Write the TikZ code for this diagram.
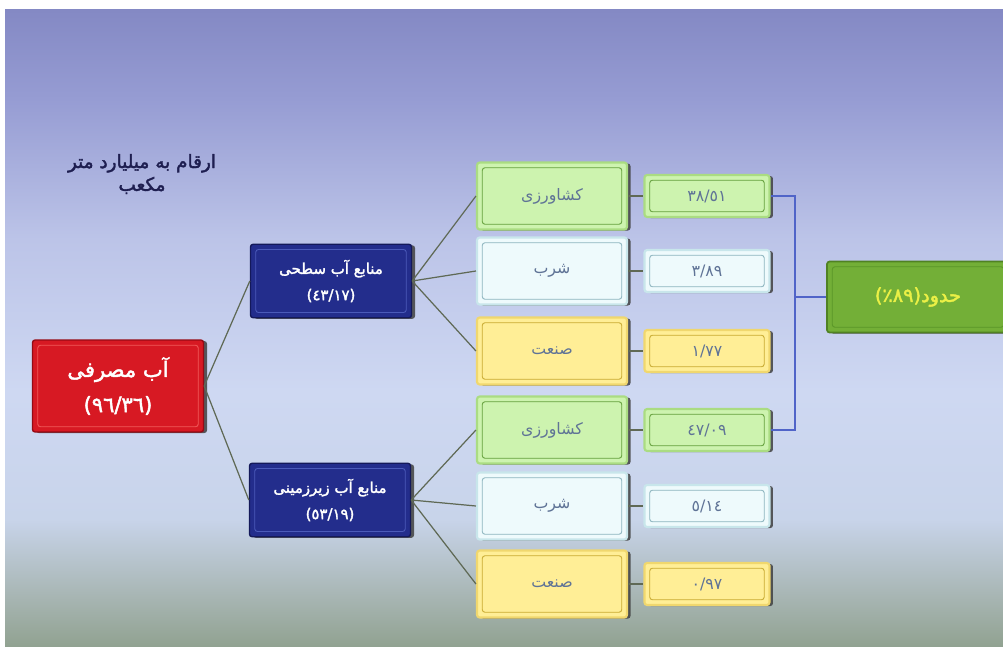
\documentclass[tikz,border=0pt]{standalone}
\usepackage{fontspec}
\usetikzlibrary{positioning, shadows}
\newfontfamily\farsi[Script=Arabic,AutoFakeBold=2]{DejaVu Sans}
\TeXXeTstate=1
\newcommand{\fatext}[1]{\beginR #1\endR}
\definecolor{bgA}{RGB}{132,137,196}
\definecolor{bgA2}{RGB}{150,156,211}
\definecolor{bgB}{RGB}{188,196,232}
\definecolor{bgC2}{RGB}{206,216,242}
\definecolor{bgC}{RGB}{200,212,234}
\definecolor{bgD}{RGB}{168,182,180}
\definecolor{bgE}{RGB}{145,162,145}
\definecolor{notecol}{RGB}{30,30,80}
\definecolor{redcol}{RGB}{215,25,35}
\definecolor{redline}{RGB}{150,10,20}
\definecolor{redbevel}{RGB}{240,90,90}
\definecolor{bluecol}{RGB}{35,45,140}
\definecolor{blueline}{RGB}{20,25,90}
\definecolor{bluebevel}{RGB}{75,90,185}
\definecolor{agricol}{RGB}{205,243,175}
\definecolor{agriline}{RGB}{170,220,130}
\definecolor{agribevel}{RGB}{100,160,60}
\definecolor{drinkcol}{RGB}{238,250,252}
\definecolor{drinkline}{RGB}{200,230,235}
\definecolor{drinkbevel}{RGB}{140,180,190}
\definecolor{induscol}{RGB}{255,238,150}
\definecolor{indusline}{RGB}{240,215,110}
\definecolor{indusbevel}{RGB}{200,170,50}
\definecolor{totalcol}{RGB}{115,175,55}
\definecolor{totalline}{RGB}{80,130,35}
\definecolor{totalbevel}{RGB}{90,150,40}
\definecolor{totaltext}{RGB}{235,240,70}
\definecolor{celltext}{RGB}{95,115,150}
\definecolor{linecol}{RGB}{95,105,85}
\definecolor{bracketcol}{RGB}{80,100,200}
\pgfdeclareverticalshading{slidebg}{100bp}{color(0bp)=(bgE); color(25bp)=(bgE);
  color(29bp)=(bgD); color(35bp)=(bgC); color(45bp)=(bgC2); color(57bp)=(bgB);
  color(68bp)=(bgA2); color(75bp)=(bgA); color(100bp)=(bgA)}

\begin{document}
\begin{tikzpicture}[
			x=0.02cm, y=-0.02cm,
			node distance=3.1cm,
			on grid,
			box/.style={
				rectangle,
				rounded corners=1.5pt,
				align=center,
				inner sep=1pt,
				font=\farsi\bfseries,
				drop shadow={shadow xshift=2pt, shadow yshift=-0.6pt, fill=black!75, opacity=0.85}
			},
			bevel/.style={
				path picture={\draw[#1, line width=0.5pt]
					([shift={(3pt,-3pt)}]path picture bounding box.north west) rectangle
					([shift={(-3pt,3pt)}]path picture bounding box.south east);}
			},
			usedbox/.style={box, fill=redcol, draw=redline, line width=0.8pt, bevel=redbevel,
				text=white, font=\farsi\bfseries\fontsize{12}{20}\selectfont,
				minimum width=3.42cm, minimum height=1.84cm},
			srcbox/.style={box, fill=bluecol, draw=blueline, line width=0.8pt, bevel=bluebevel,
				text=white, font=\farsi\bfseries\fontsize{8.5}{15}\selectfont,
				minimum width=3.22cm, minimum height=1.47cm},
			catbox/.style={box, fill=#1col, draw=#1line, line width=1.2pt, bevel=#1bevel,
				text=celltext, font=\farsi\fontsize{9}{11}\selectfont,
				minimum width=3cm, minimum height=1.34cm},
			valbox/.style={box, fill=#1col, draw=#1line, line width=1.2pt, bevel=#1bevel,
				text=celltext, font=\farsi\fontsize{9}{11}\selectfont,
				minimum width=2.5cm, minimum height=0.84cm},
			treeline/.style={draw=linecol, line width=0.7pt},
			bracket/.style={draw=bracketcol, line width=0.6pt}
			]
			\useasboundingbox (0,0) rectangle (1003,652);
			% Background
			\fill[shading=slidebg] (5,10) rectangle (1003,646);
			
			% Note
			\node[font=\farsi\bfseries\fontsize{10.5}{13}\selectfont, text=notecol, align=center] (note) at (142,174)
				{\fatext{ارقام به میلیارد متر}\\\fatext{مکعب}};
			
			% Boxes
			\node[usedbox] (used) at (118,386) {\fatext{آب مصرفی}\\(٩٦/٣٦)};
			\node[srcbox] (surface) at (331,281) {\fatext{منابع آب سطحی}\\(٤٣/١٧)};
			\node[srcbox] (ground) at (330,500) {\fatext{منابع آب زیرزمینی}\\(٥٣/١٩)};
			
			\node[catbox=agri] (agriS) at (552,196) {\fatext{کشاورزی}};
			\node[catbox=drink] (drinkS) at (552,271) {\fatext{شرب}};
			\node[catbox=indus] (indusS) at (552,351) {\fatext{صنعت}};
			\node[catbox=agri] (agriG) at (552,430) {\fatext{کشاورزی}};
			\node[catbox=drink] (drinkG) at (552,506) {\fatext{شرب}};
			\node[catbox=indus] (indusG) at (552,584) {\fatext{صنعت}};
			
			\node[valbox=agri] (valAgriS) [right=of agriS] {٣٨/٥١};
			\node[valbox=drink] (valDrinkS) [right=of drinkS] {٣/٨٩};
			\node[valbox=indus] (valIndusS) [right=of indusS] {١/٧٧};
			\node[valbox=agri] (valAgriG) [right=of agriG] {٤٧/٠٩};
			\node[valbox=drink] (valDrinkG) [right=of drinkG] {٥/١٤};
			\node[valbox=indus] (valIndusG) [right=of indusG] {٠/٩٧};
			
			\node[box, fill=totalcol, draw=totalline, line width=1pt, bevel=totalbevel,
				text=totaltext, font=\farsi\bfseries\fontsize{11}{13}\selectfont,
				minimum width=3.64cm, minimum height=1.42cm] (total) at (918,297)
				{(٨٩٪)\fatext{حدود}};
			
			% Connectors
			\path[treeline]
			(used.east) edge (surface.west)
			(used.east) edge (ground.west)
			(surface.east) edge (agriS.west)
			(surface.east) edge (drinkS.west)
			(surface.east) edge (indusS.west)
			(ground.east) edge (agriG.west)
			(ground.east) edge (drinkG.west)
			(ground.east) edge (indusG.west);
			\foreach \c/\v in {agriS/valAgriS, drinkS/valDrinkS, indusS/valIndusS,
				agriG/valAgriG, drinkG/valDrinkG, indusG/valIndusG}
				\draw[treeline] (\c.east) -- (\v.west);
			
			\coordinate (join) at (795,297);
			\draw[bracket] (valAgriS.east) -| (join);
			\draw[bracket] (valAgriG.east) -| (join);
			\draw[bracket] (join) -- (total.west);
		\end{tikzpicture}
\end{document}
